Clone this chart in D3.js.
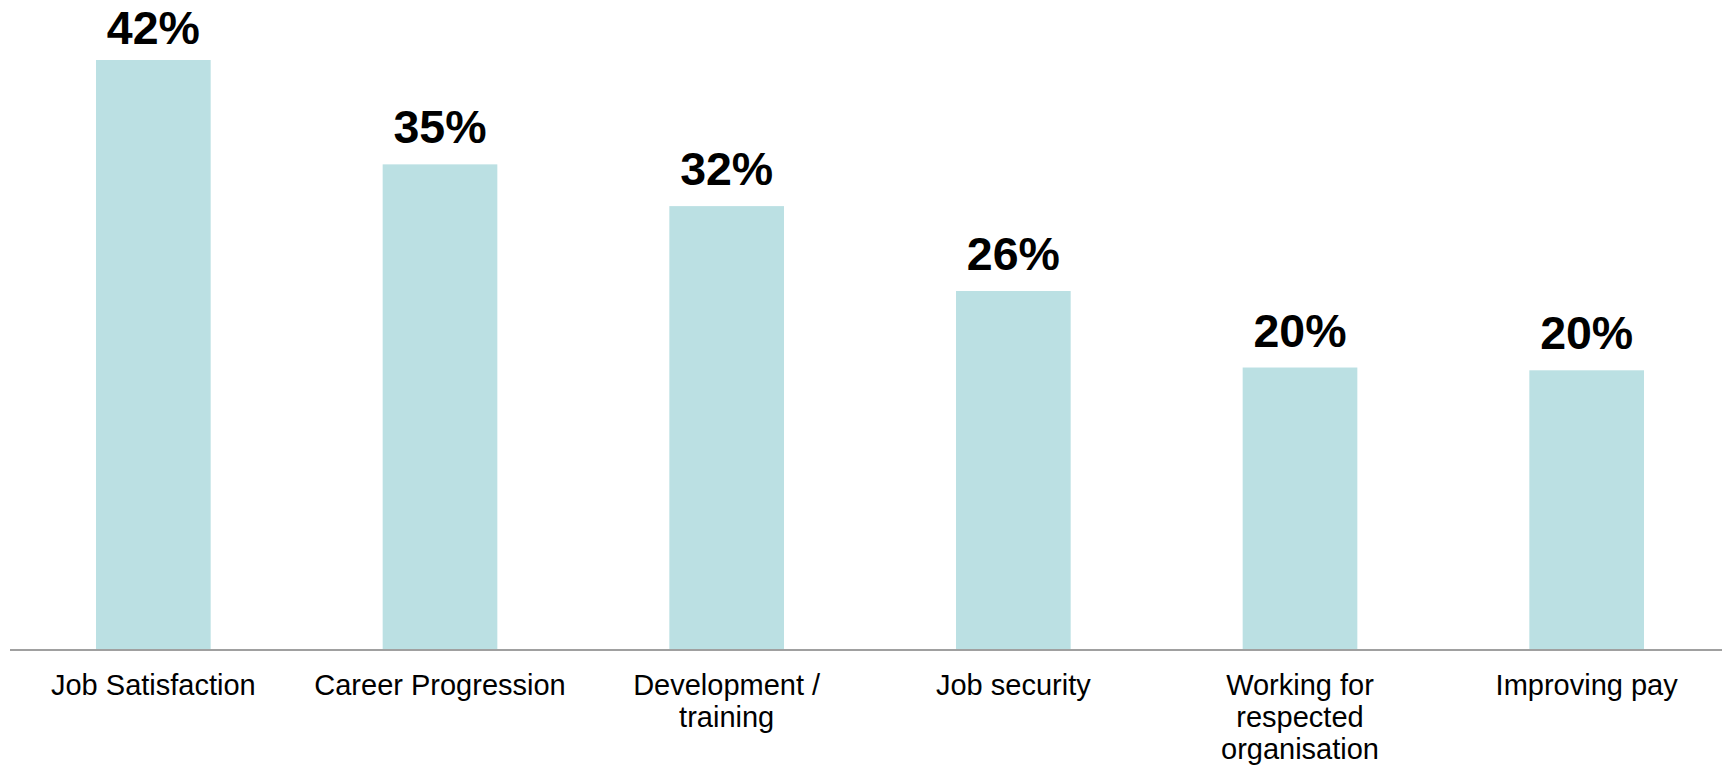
<!DOCTYPE html>
<html>
<head>
<meta charset="utf-8">
<script src="https://cdn.jsdelivr.net/npm/d3@7"></script>
<style>
  html, body { margin: 0; padding: 0; background: #ffffff; }
  svg { display: block; }
</style>
</head>
<body>
<script>
const categories = ["Job Satisfaction", "Career Progression", "Development / training", "Job security", "Working for respected organisation", "Improving pay"];
const categoryLines = [["Job Satisfaction"], ["Career Progression"], ["Development /", "training"], ["Job security"], ["Working for", "respected", "organisation"], ["Improving pay"]];
const values = [42.4, 34.9, 31.9, 25.8, 20.3, 20.1];

const W = 1722, H = 767;
const baseY = 650;

const svg = d3.select("body").append("svg").attr("width", W).attr("height", H);

const x = d3.scaleBand().domain(categories).range([10, 1730]).paddingInner(0.6).paddingOuter(0.3);
const y = d3.scaleLinear().domain([0, 42.4]).range([baseY, 60]);

svg.selectAll("rect.bar").data(values).join("rect")
  .attr("class", "bar")
  .attr("x", (d, i) => x(categories[i]))
  .attr("width", x.bandwidth())
  .attr("y", d => y(d))
  .attr("height", d => baseY - y(d))
  .attr("fill", "#BBE0E3");

// axis line
const axis = d3.axisBottom(x).tickSize(0).tickFormat("");
const gAxis = svg.append("g").attr("transform", `translate(0,${baseY})`).call(axis);
gAxis.select(".domain").attr("stroke", "#A0A0A0").attr("stroke-width", 2).attr("d", `M10,0H${W}`);

// value labels
svg.selectAll("text.val").data(values).join("text")
  .attr("class", "val")
  .attr("x", (d, i) => x(categories[i]) + x.bandwidth() / 2)
  .attr("y", d => Math.max(y(d) - 21, 44))
  .attr("text-anchor", "middle")
  .attr("font-family", "'Liberation Sans', Arial, sans-serif")
  .attr("font-weight", "bold")
  .attr("font-size", 46.5)
  .attr("fill", "#000")
  .text(d => Math.round(d) + "%");

// category labels
const cat = svg.selectAll("text.cat").data(categoryLines).join("text")
  .attr("class", "cat")
  .attr("text-anchor", "middle")
  .attr("font-family", "'Liberation Sans', Arial, sans-serif")
  .attr("font-size", 29)
  .attr("fill", "#000")
  .attr("transform", (d, i) => `translate(${x(categories[i]) + x.bandwidth() / 2},695)`);
cat.selectAll("tspan").data(d => d).join("tspan")
  .attr("x", 0)
  .attr("y", (d, j) => j * 32)
  .text(d => d);
</script>
</body>
</html>
